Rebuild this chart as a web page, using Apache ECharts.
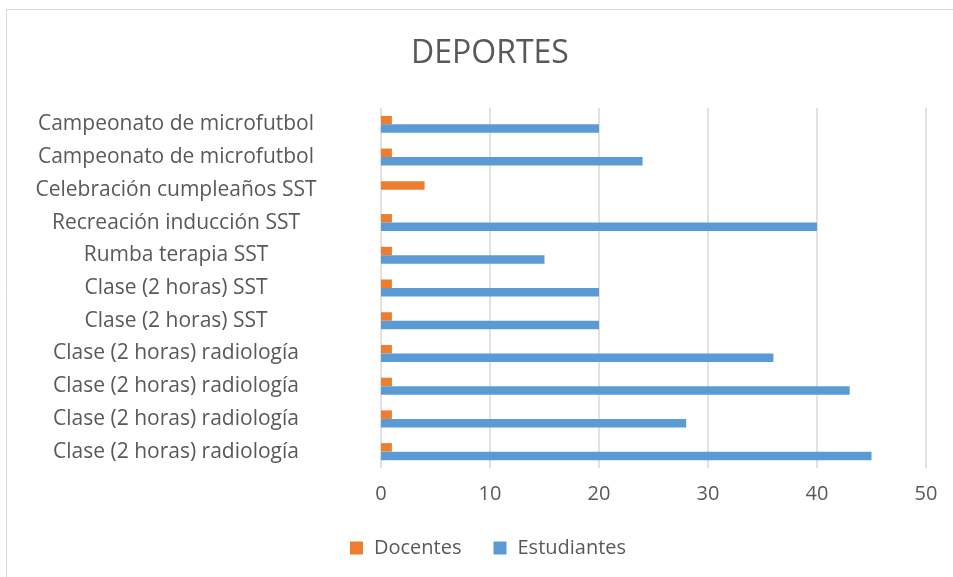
<!DOCTYPE html>
<html>
<head>
<meta charset="utf-8">
<script src="https://cdn.jsdelivr.net/npm/echarts@6/dist/echarts.min.js"></script>
<style>
    html, body { margin: 0; padding: 0; background: #fff; }
    #chart { width: 953px; height: 577px; }
</style>
</head>
<body>
<div id="chart"></div>
<script>
// categories listed top to bottom, as in the picture
const actividades = [
    'Campeonato de microfutbol',
    'Campeonato de microfutbol',
    'Celebración cumpleaños SST',
    'Recreación inducción SST',
    'Rumba terapia SST',
    'Clase (2 horas) SST',
    'Clase (2 horas) SST',
    'Clase (2 horas) radiología',
    'Clase (2 horas) radiología',
    'Clase (2 horas) radiología',
    'Clase (2 horas) radiología',
]
const docentes = [1, 1, 4, 1, 1, 1, 1, 1, 1, 1, 1]
const estudiantes = [20, 24, 0, 40, 15, 20, 20, 36, 43, 28, 45]
const xTicks = [0, 10, 20, 30, 40, 50]

const FONT = '"Open Sans", sans-serif'
const TXT = '#595959'

const chart = echarts.init(document.getElementById('chart'))
chart.setOption({
    animation: false,
    title: {
        text: 'DEPORTES',
        left: 406,
        top: 33,
        textStyle: { fontFamily: FONT, fontSize: 32, fontWeight: 'normal', color: TXT },
    },
    // outer chart border (only top and left edges are visible in the picture)
    graphic: [{
        type: 'rect',
        shape: { x: 6.5, y: 9.5, width: 1200, height: 800 },
        style: { fill: 'none', stroke: '#d9d9d9', lineWidth: 1 },
        silent: true,
    }],
    legend: {
        data: ['Docentes', 'Estudiantes'],
        left: 345,
        top: 533,
        itemWidth: 13,
        itemHeight: 13,
        itemGap: 32,
        icon: 'rect',
        textStyle: { fontFamily: FONT, fontSize: 20, color: TXT, padding: [0, 0, 0, 6] },
    },
    grid: { left: 381, right: 27, top: 108, bottom: 109 },
    xAxis: {
        type: 'value',
        min: xTicks[0],
        max: xTicks[xTicks.length - 1],
        interval: 10,
        axisLine: { show: false },
        axisTick: { show: false },
        axisLabel: { fontFamily: FONT, fontSize: 20, color: TXT, margin: 16 },
        splitLine: { lineStyle: { color: '#d9d9d9', width: 1.5 } },
    },
    yAxis: {
        type: 'category',
        data: actividades,
        inverse: true,
        axisLine: { show: false },
        axisTick: { show: false },
        axisLabel: { fontFamily: FONT, fontSize: 21, color: TXT, align: 'center', margin: 205 },
    },
    series: [
        {
            name: 'Docentes',
            type: 'bar',
            data: docentes,
            itemStyle: { color: '#ED7D31' },
            barGap: '0%',
            barCategoryGap: '48%',
        },
        {
            name: 'Estudiantes',
            type: 'bar',
            data: estudiantes,
            itemStyle: { color: '#5B9BD5' },
            barGap: '0%',
            barCategoryGap: '48%',
        },
    ],
})
</script>
</body>
</html>
